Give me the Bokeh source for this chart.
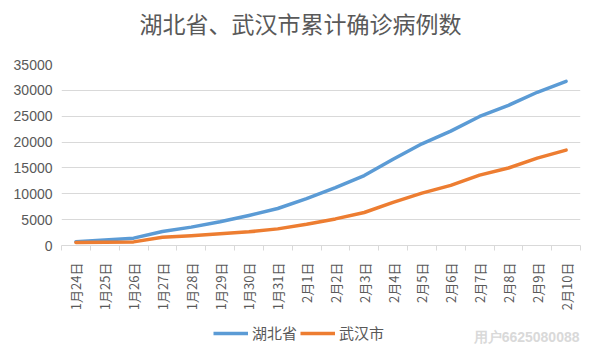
import math
from bokeh.plotting import figure
from bokeh.layouts import column
from bokeh.models import (Range1d, FixedTicker, Label, Legend, LegendItem,
                          ColumnDataSource)
from bokeh.embed import file_html
from bokeh.resources import INLINE

# ---- data ----
dates = ["1月24日", "1月25日", "1月26日", "1月27日", "1月28日", "1月29日",
         "1月30日", "1月31日", "2月1日", "2月2日", "2月3日", "2月4日",
         "2月5日", "2月6日", "2月7日", "2月8日", "2月9日", "2月10日"]
hubei = [729, 1052, 1423, 2714, 3554, 4586, 5806, 7153, 9074, 11177,
         13522, 16678, 19665, 22112, 24953, 27100, 29631, 31728]
wuhan = [572, 618, 698, 1590, 1905, 2261, 2639, 3215, 4109, 5142,
         6384, 8351, 10117, 11618, 13603, 14982, 16902, 18454]
y_ticks = [0, 5000, 10000, 15000, 20000, 25000, 30000, 35000]
title_text = "湖北省、武汉市累计确诊病例数"
series_names = ["湖北省", "武汉市"]
watermark = "用户6625080088"

BLUE = "#5B9BD5"
ORANGE = "#ED7D31"
GREY_TXT = "#595959"
GRID = "#d9d9d9"
LW = 3.5
W = 584
FRAME_LEFT = 61   # strips share the main chart's frame in the column

n = len(dates)
xs = [i + 0.5 for i in range(n)]
src = ColumnDataSource(dict(x=xs, hubei=hubei, wuhan=wuhan))


def strip(height):
    f = figure(width=W, height=height, output_backend="svg",
               toolbar_location=None, x_range=Range1d(0, 1),
               y_range=Range1d(0, 1), x_axis_location=None,
               y_axis_location=None, min_border_left=0, min_border_right=0,
               min_border_top=0, min_border_bottom=0)
    f.grid.visible = False
    f.outline_line_color = None
    f.background_fill_color = "white"
    f.border_fill_color = "white"
    return f


# ---------------- title strip ----------------
t = strip(48)
t.add_layout(Label(x=300 - FRAME_LEFT, y=26, x_units="screen", y_units="screen",
                   text=title_text, text_align="center",
                   text_baseline="middle", text_font="Noto Sans CJK SC",
                   text_font_size="23px", text_color=GREY_TXT))

# ---------------- main chart ----------------
p = figure(width=W, height=267, output_backend="svg", toolbar_location=None,
           x_range=Range1d(0, n), y_range=Range1d(y_ticks[0], y_ticks[-1]),
           min_border_left=FRAME_LEFT, min_border_right=4, min_border_top=16,
           min_border_bottom=70)
p.outline_line_color = None
p.background_fill_color = "white"
p.border_fill_color = "white"

p.line("x", "hubei", source=src, line_color=BLUE, line_width=LW,
       line_join="round", line_cap="round")
p.line("x", "wuhan", source=src, line_color=ORANGE, line_width=LW,
       line_join="round", line_cap="round")

# x axis: labels at category centers, ticks at category boundaries
xa = p.xaxis[0]
xa.ticker = FixedTicker(ticks=xs, minor_ticks=list(range(n + 1)))
xa.major_label_overrides = {x: d for x, d in zip(xs, dates)}
xa.major_label_orientation = math.pi / 2
xa.major_tick_line_color = None
xa.major_tick_out = 0
xa.major_tick_in = 0
xa.minor_tick_line_color = GRID
xa.minor_tick_out = 5
xa.minor_tick_in = 0
xa.axis_line_color = GRID
xa.major_label_standoff = 12
xa.major_label_text_font = "Noto Sans CJK SC"
xa.major_label_text_font_size = "13px"
xa.major_label_text_color = GREY_TXT

ya = p.yaxis[0]
ya.ticker = FixedTicker(ticks=y_ticks)
ya.axis_line_color = None
ya.major_tick_line_color = None
ya.major_tick_out = 0
ya.major_tick_in = 0
ya.minor_tick_line_color = None
ya.major_label_standoff = 9
ya.major_label_text_font = "Liberation Sans"
ya.major_label_text_font_size = "14px"
ya.major_label_text_color = GREY_TXT

p.xgrid.grid_line_color = None
p.ygrid.grid_line_color = GRID
p.ygrid.grid_line_width = 1

# ---------------- legend strip ----------------
q = strip(30)
# same series, drawn outside this strip's visible range: only their legend shows
k1 = q.line("x", "hubei", source=src, line_color=BLUE, line_width=LW)
k2 = q.line("x", "wuhan", source=src, line_color=ORANGE, line_width=LW)

legend = Legend(items=[LegendItem(label=series_names[0], renderers=[k1]),
                       LegendItem(label=series_names[1], renderers=[k2])],
                orientation="horizontal", location=(213 - FRAME_LEFT, 2),
                glyph_width=35, glyph_height=16, label_height=16,
                label_standoff=4, spacing=3, padding=0, margin=0,
                label_text_font="Noto Sans CJK SC", label_text_font_size="15px",
                label_text_color=GREY_TXT, border_line_color=None,
                background_fill_alpha=0)
q.add_layout(legend, "center")

q.add_layout(Label(x=518, y=1, x_units="screen", y_units="screen",
                   text=watermark, text_align="right", text_baseline="bottom",
                   text_font="Liberation Sans", text_font_size="14px",
                   text_font_style="bold", text_color="#d9d9d9"))

layout = column(t, p, q, spacing=0)
open("out.html", "w").write(file_html(layout, INLINE))
